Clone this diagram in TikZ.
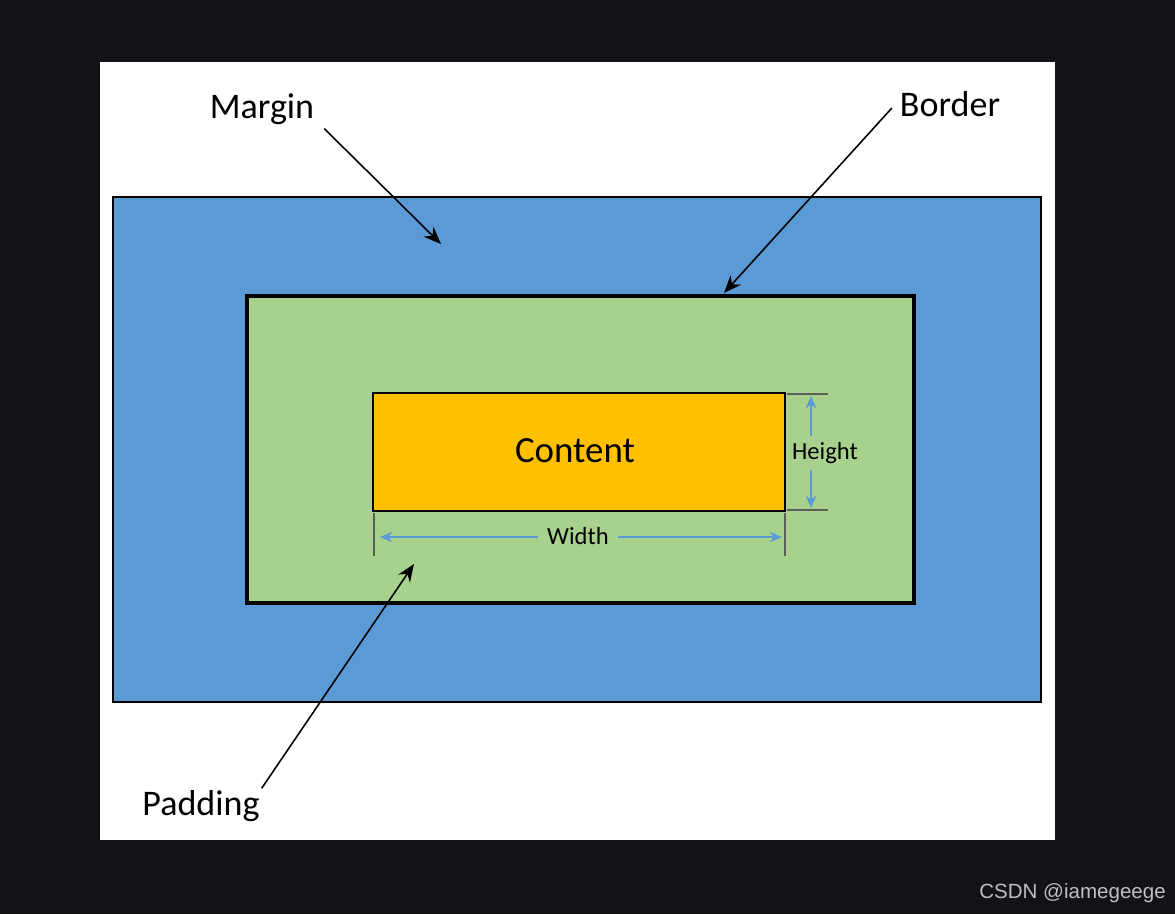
\documentclass[tikz,border=0pt]{standalone}
\usepackage{fontspec}
\setmainfont{Carlito}
\newfontfamily\wmfont{Liberation Sans}
\definecolor{screenDark}{HTML}{131216}
\definecolor{boxBlue}{HTML}{5B9BD5}
\definecolor{boxGreen}{HTML}{A9D18E}
\definecolor{boxGold}{HTML}{FFC000}
\definecolor{dimGray}{HTML}{5A5F5A}
\usetikzlibrary{arrows.meta, fit, positioning}

\begin{document}
\begin{tikzpicture}[
    x=0.02cm, y=-0.02cm,
    >=Stealth,
    % --- estilos ---
    frame/.style={inner sep=0pt, outer sep=0pt},
    marginbox/.style={frame, fill=boxBlue, draw=black, line width=0.8pt},
    borderbox/.style={frame, fill=boxGreen, draw=black, line width=2.3pt},
    contentbox/.style={frame, fill=boxGold, draw=black, line width=1pt,
                       font=\fontsize{21}{24}\selectfont},
    tag/.style={font=\fontsize{20.5}{24}\selectfont, text=black, inner sep=1pt},
    dimtag/.style={font=\fontsize{14}{16}\selectfont, text=black, inner sep=1pt},
    pointer/.style={->, black, line width=0.9pt,
                    >={Stealth[length=10pt, width=8pt]}},
    dimline/.style={boxBlue, line width=1pt, >={Stealth[length=7pt, width=6pt]}},
    extline/.style={dimGray, line width=0.6pt}
]

% ====== Fondo y hoja ======
\fill[screenDark] (0,0) rectangle (1175,914);
\node[frame, fill=white, fit={(100,62) (1055,840)}] (sheet) {};

% ====== Cajas del modelo ======
\node[marginbox, fit={(113,197) (1041,702)}] (margin) {};
\node[borderbox, fit={(247,296) (914,603)}] (border) {};
\node[contentbox, fit={(373,393) (785,511)}] (content) {};
\node[contentbox, draw=none, fill=none] (ctext) at (575,451) {Content};

% ====== Cotas ======
\coordinate (wl) at (374,513);
\coordinate (wr) at (785,513);
\draw[extline] (wl) -- ++(0,43);
\draw[extline] (wr) -- ++(0,43);
\node[dimtag] (wtag) at (578,536) {Width};
\coordinate (wla) at (380,537);
\coordinate (wra) at (782,537);
\draw[dimline, ->] ([xshift=-4]wtag.west |- wla) -- (wla);
\draw[dimline, ->] ([xshift=4]wtag.east |- wra) -- (wra);

\coordinate (ht) at (787,394);
\coordinate (hb) at (787,510);
\draw[extline] (ht) -- ++(41,0);
\draw[extline] (hb) -- ++(41,0);
\node[dimtag] (htag) at (825,453) {Height};
\coordinate (hta) at (811,396);
\coordinate (hba) at (811,508);
\draw[dimline, ->] (hta |- htag.north) ++(0,-4) -- (hta);
\draw[dimline, ->] (hba |- htag.south) ++(0,4) -- (hba);

% ====== Etiquetas ======
\node[tag] (lmargin) at (262,109) {Margin};
\node[tag] (lborder) at (950,104) {Border};
\node[tag] (lpadding) at (201,806) {Padding};

\coordinate (pm) at (441,244);
\coordinate (pb) at (724,293);
\coordinate (pp) at (414,564);

\draw[pointer] ([shift={(8,2)}]lmargin.south east) -- (pm);
\draw[pointer] ([shift={(-6,4)}]lborder.west) -- (pb);
\draw[pointer] (lpadding.north east) -- (pp);

% --- marca de agua ---
\node[font=\wmfont\fontsize{11.7}{14}\selectfont, text=white!75!black, anchor=east] (wm) at (1172,893) {CSDN @iamegeege};

\end{tikzpicture}
\end{document}
